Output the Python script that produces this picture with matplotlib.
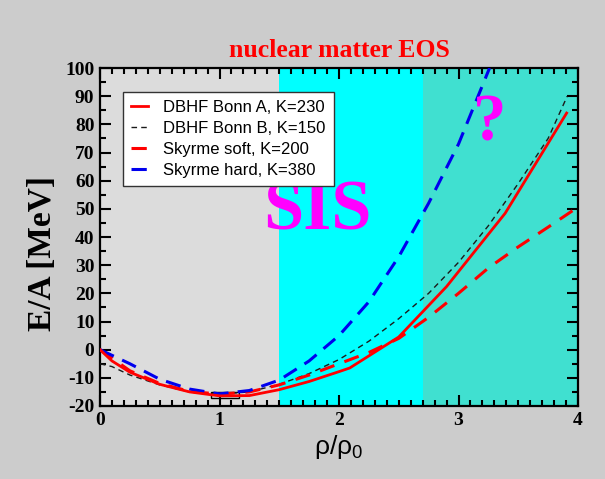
import matplotlib
matplotlib.use("Agg")
import matplotlib.pyplot as plt
from matplotlib.patches import Rectangle
from matplotlib.ticker import MultipleLocator

# DBHF Bonn A, K=230 (red solid)
bonn_a_x = [0.0, 0.1, 0.25, 0.5, 0.75, 1.0, 1.25, 1.5, 1.75, 2.0, 2.09, 2.5, 2.9, 3.39, 3.905]
bonn_a_y = [0.0, -4.0, -8.0, -12.3, -15.0, -16.4, -16.3, -14.2, -11.3, -7.8, -6.5, 4.5, 22.4, 48.4, 84.0]

# DBHF Bonn B, K=150 (black thin dashed)
bonn_b_x = [0.0, 0.1, 0.25, 0.5, 0.75, 1.0, 1.25, 1.5, 1.75, 2.0, 2.25, 2.5, 2.75, 3.0, 3.25, 3.5, 3.75, 3.91]
bonn_b_y = [-5.0, -6.0, -9.0, -12.5, -15.0, -15.8, -15.0, -12.3, -8.5, -3.5, 3.0, 11.0, 20.0, 31.0, 44.0, 59.0, 75.0, 90.0]

# Skyrme soft, K=200 (red dashed)
soft_x = [0.0, 0.25, 0.5, 0.75, 1.0, 1.25, 1.5, 1.75, 2.0, 2.25, 2.5, 2.75, 3.0, 3.25, 3.5, 3.75, 3.96]
soft_y = [0.0, -7.5, -12.0, -14.8, -15.8, -15.0, -12.5, -9.0, -5.0, -1.0, 4.0, 11.5, 20.0, 29.0, 36.5, 43.5, 49.5]

# Skyrme hard, K=380 (blue dashed)
hard_x = [0.0, 0.25, 0.5, 0.75, 1.0, 1.25, 1.5, 1.75, 2.0, 2.25, 2.5, 2.75, 3.0, 3.26]
hard_y = [0.0, -5.0, -10.5, -14.0, -15.7, -14.5, -10.8, -4.0, 5.0, 17.0, 33.0, 52.0, 73.0, 100.0]

labels = ["DBHF Bonn A, K=230", "DBHF Bonn B, K=150", "Skyrme soft, K=200", "Skyrme hard, K=380"]

# density regions (x ranges)
region_edges = [0.0, 1.5, 2.7, 4.0]
region_colors = ["#dcdcdc", "#00ffff", "#40e0d0"]

# saturation box
sat_x = [0.93, 1.16]
sat_y = [-17.2, -15.0]

plt.rcParams['mathtext.fontset'] = 'custom'
plt.rcParams['mathtext.rm'] = 'Liberation Sans'
plt.rcParams['axes.unicode_minus'] = False

fig = plt.figure(figsize=(6.05, 4.79), dpi=100, facecolor="#cccccc")
ax = fig.add_axes([100 / 605, 1 - 406 / 479, 478 / 605, 338 / 479])

for i in range(3):
    ax.axvspan(region_edges[i], region_edges[i + 1], color=region_colors[i], lw=0, zorder=0)

ax.add_patch(Rectangle((sat_x[0], sat_y[0]), sat_x[1] - sat_x[0], sat_y[1] - sat_y[0],
                       fill=False, edgecolor="black", lw=1.0, zorder=2))

ax.plot(bonn_a_x, bonn_a_y, color="red", lw=2.0, label=labels[0], zorder=4)
ax.plot(bonn_b_x, bonn_b_y, color="#1a1a1a", lw=1.0, dashes=(4, 3), label=labels[1], zorder=3)
ax.plot(soft_x, soft_y, color="red", lw=2.2, dashes=(5, 3.5), label=labels[2], zorder=3)
ax.plot(hard_x, hard_y, color="#0000ee", lw=2.2, dashes=(5, 3), label=labels[3], zorder=3)

ax.set_xlim(0, 4)
ax.set_ylim(-20, 100)
ax.xaxis.set_major_locator(MultipleLocator(1))
ax.xaxis.set_minor_locator(MultipleLocator(0.1))
ax.yaxis.set_major_locator(MultipleLocator(10))
ax.yaxis.set_minor_locator(MultipleLocator(5))
ax.tick_params(which="both", direction="in", top=True, right=True, width=1.5, colors="black")
ax.tick_params(which="major", length=8, pad=4)
ax.tick_params(which="minor", length=4.5)
for s in ax.spines.values():
    s.set_linewidth(1.6)
for lab in ax.get_xticklabels() + ax.get_yticklabels():
    lab.set_fontfamily("Liberation Serif")
    lab.set_fontweight("bold")
    lab.set_fontsize(14)

ax.set_title("nuclear matter EOS", color="red", fontfamily="Liberation Serif",
             fontweight="bold", fontsize=18.5, pad=8)
ax.set_ylabel("E/A [MeV]", fontfamily="Liberation Serif", fontweight="bold", fontsize=24)
ax.yaxis.set_label_coords(-0.088, 0.45)
ax.set_xlabel("ρ/ρ$_0$", fontfamily="Liberation Sans", fontsize=19, labelpad=3)

ax.text(1.82, 49, "SIS", color="#ff00ff", fontfamily="Liberation Serif", fontweight="bold",
        fontsize=52, ha="center", va="center", zorder=5)
ax.text(3.26, 80, "?", color="#ff00ff", fontfamily="Liberation Serif", fontweight="bold",
        fontsize=48, ha="center", va="center", zorder=5)

leg = ax.legend(loc="upper left", bbox_to_anchor=(0.048, 0.929), borderaxespad=0,
                prop={"family": "Liberation Sans", "size": 12}, handlelength=1.0,
                handletextpad=0.9, labelspacing=0.35, fancybox=False, framealpha=1,
                edgecolor="#333333", borderpad=0.5)
leg.get_frame().set_linewidth(1.0)
leg.set_zorder(6)

fig.savefig("out.png", dpi=100, facecolor=fig.get_facecolor())
